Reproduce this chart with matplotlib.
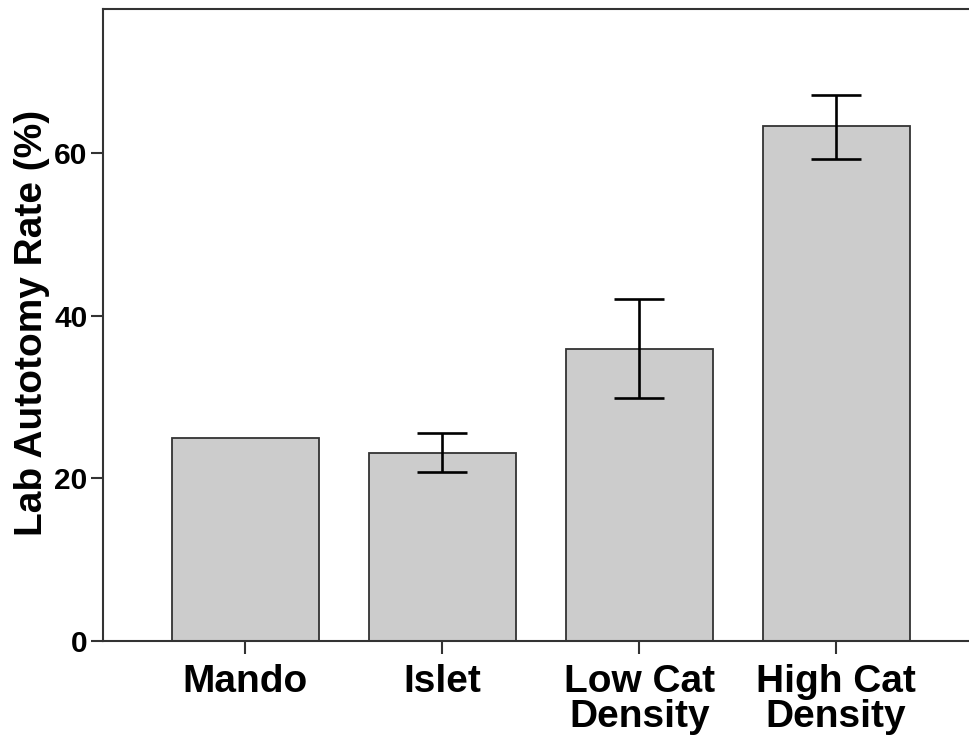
import numpy as np
import matplotlib
matplotlib.use("Agg")
import matplotlib.pyplot as plt

plt.rcParams['font.family'] = ['Liberation Sans', 'DejaVu Sans']

# data
groups = ["Mando", "Islet", "Low Cat\nDensity", "High Cat\nDensity"]
rates = [25.0, 23.15, 35.95, 63.35]
err_low = [0.0, 2.45, 6.05, 4.1]
err_high = [0.0, 2.45, 6.05, 3.75]

barcolor = '#CCCCCC'
edgecol = '#333333'

fig = plt.figure(figsize=(9.7, 7.43), dpi=100)
ax = fig.add_axes([103 / 970, 1 - 640.7 / 743, 1 - 103 / 970, (640.7 - 8.5) / 743])

x = np.arange(len(groups))
ax.bar(x, rates, width=0.746, color=barcolor, edgecolor=edgecol, linewidth=1.3, zorder=2)

# only draw error bars where there is one
has_err = [i for i in range(len(groups)) if err_low[i] > 0]
ax.errorbar(x[has_err], np.array(rates)[has_err],
            yerr=[np.array(err_low)[has_err], np.array(err_high)[has_err]],
            fmt='none', ecolor='black', elinewidth=1.9, capsize=18, capthick=1.9, zorder=3)

ax.set_xlim(-0.723, 3.68)
ax.set_ylim(0, 77.8)
ax.set_yticks([0, 20, 40, 60])
ax.set_xticks(x)
ax.set_xticklabels(groups, fontsize=28, fontweight='bold', linespacing=0.95)
ax.tick_params(axis='x', length=9, width=1.5, color=edgecol, pad=8)
ax.tick_params(axis='y', length=9, width=1.5, color=edgecol, pad=2, labelsize=21.5)
for lab in ax.get_yticklabels():
    lab.set_fontweight('bold')

for side in ['left', 'bottom', 'top']:
    ax.spines[side].set_linewidth(1.5)
    ax.spines[side].set_color(edgecol)
ax.spines['right'].set_visible(False)

ax.set_ylabel("Lab Autotomy Rate (%)", fontsize=28, fontweight='bold')
ax.yaxis.set_label_coords(-0.061, 0.503)

fig.savefig("out.png", dpi=100)
